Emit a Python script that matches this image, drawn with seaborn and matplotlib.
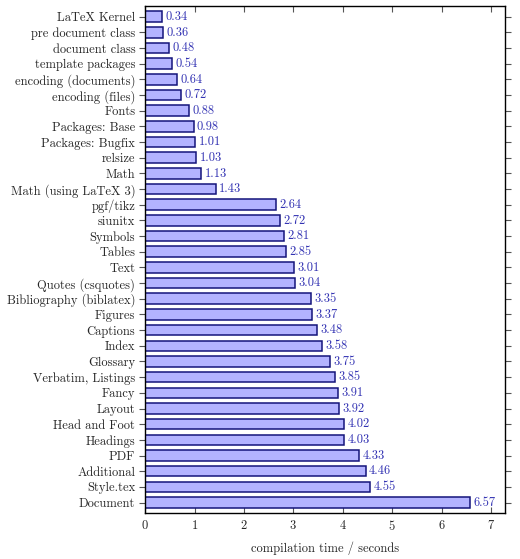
import pandas as pd
import matplotlib.pyplot as plt
import seaborn as sns

# data, top to bottom
tasks = ["LaTeX Kernel", "pre document class", "document class", "template packages",
         "encoding (documents)", "encoding (files)", "Fonts", "Packages: Base",
         "Packages: Bugfix", "relsize", "Math", "Math (using LaTeX 3)", "pgf/tikz",
         "siunitx", "Symbols", "Tables", "Text", "Quotes (csquotes)",
         "Bibliography (biblatex)", "Figures", "Captions", "Index", "Glossary",
         "Verbatim, Listings", "Fancy", "Layout", "Head and Foot", "Headings",
         "PDF", "Additional", "Style.tex", "Document"]
seconds = [0.34, 0.36, 0.48, 0.54, 0.64, 0.72, 0.88, 0.98, 1.01, 1.03, 1.13, 1.43,
           2.64, 2.72, 2.81, 2.85, 3.01, 3.04, 3.35, 3.37, 3.48, 3.58, 3.75, 3.85,
           3.91, 3.92, 4.02, 4.03, 4.33, 4.46, 4.55, 6.57]
xticks = [0, 1, 2, 3, 4, 5, 6, 7]

df = pd.DataFrame({"task": tasks, "seconds": seconds})

sns.set_style("white")
plt.rcParams["font.family"] = ["cmr10", "DejaVu Serif"]
plt.rcParams["axes.formatter.use_mathtext"] = True

fig = plt.figure(figsize=(5.2, 5.59), dpi=100)
ax = fig.add_axes([0.279, 0.082, 0.692, 0.907])

sns.barplot(data=df, x="seconds", y="task", orient="h", ax=ax,
            color="#b3b3ff", saturation=1, edgecolor="#14147a", linewidth=1.1,
            width=0.68)

for i, v in enumerate(seconds):
    ax.text(v + 0.07, i, f"{v:.2f}", va="center", ha="left",
            fontsize=9, color="#3333b3")

ax.set_xlim(0, 7.28)
ax.set_ylim(len(tasks) - 0.32, -0.68)
ax.set_xticks(xticks)
ax.set_xlabel("compilation time / seconds", fontsize=9, labelpad=6)
ax.set_ylabel("")
ax.tick_params(axis="x", direction="in", top=True, bottom=True, length=4,
               labelsize=9, color="#555555", pad=4)
ax.tick_params(axis="y", direction="out", left=True, right=True, length=4,
               labelsize=9, color="#555555", pad=3)
for s in ax.spines.values():
    s.set_color("black")
    s.set_linewidth(1.0)

fig.savefig("out.png", dpi=100)
